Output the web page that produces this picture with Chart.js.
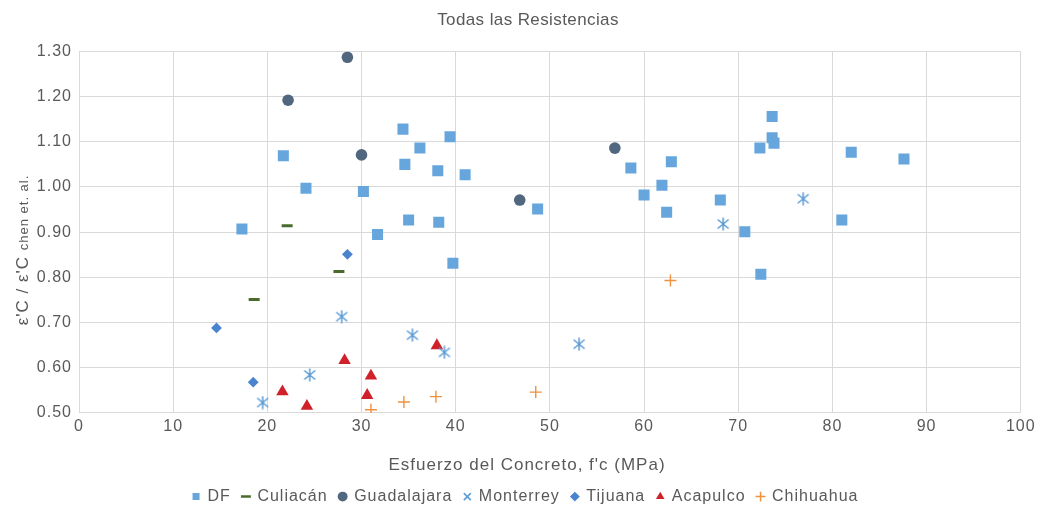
<!DOCTYPE html>
<html>
<head>
<meta charset="utf-8">
<script src="https://cdn.jsdelivr.net/npm/chart.js@4.4.1/dist/chart.umd.min.js"></script>
<style>
  html, body { margin: 0; padding: 0; background: #ffffff; }
  #wrap { width: 1040px; height: 506px; }
</style>
</head>
<body>
<div id="wrap"><canvas id="c" width="1040" height="506"></canvas></div>
<script>
const chartTitle = 'Todas las Resistencias';
const xAxisTitle = "Esfuerzo del Concreto, f'c (MPa)";
const yAxisMain = "ε'C / ε'C ";
const yAxisSub = 'chen et. al.';
const xTicks = [0, 10, 20, 30, 40, 50, 60, 70, 80, 90, 100];
const yTicks = [0.50, 0.60, 0.70, 0.80, 0.90, 1.00, 1.10, 1.20, 1.30];
const seriesNames = ['DF', 'Culiacán', 'Guadalajara', 'Monterrey', 'Tijuana', 'Acapulco', 'Chihuahua'];

const dfX = [17.3, 21.7, 24.1, 30.2, 31.7, 34.4, 34.6, 35.0, 36.2, 38.1, 38.2, 39.4, 39.7, 41.0, 48.7, 58.6, 60.0, 61.9, 62.4, 62.9, 68.1, 70.7, 72.3, 72.4, 73.6, 73.6, 73.8, 81.0, 82.0, 87.6];
const dfY = [0.907, 1.069, 0.997, 0.990, 0.895, 1.128, 1.050, 0.927, 1.086, 1.036, 0.922, 1.111, 0.831, 1.027, 0.951, 1.042, 0.982, 1.004, 0.944, 1.056, 0.971, 0.901, 1.086, 0.807, 1.156, 1.109, 1.097, 0.927, 1.077, 1.062];
const culX = [18.6, 22.1, 27.6];
const culY = [0.751, 0.914, 0.813];
const guaX = [22.2, 28.5, 30.0, 46.8, 56.9];
const guaY = [1.192, 1.287, 1.071, 0.971, 1.086];
const monX = [19.5, 24.5, 27.9, 35.4, 38.8, 53.1, 68.4, 76.9];
const monY = [0.523, 0.584, 0.713, 0.672, 0.634, 0.652, 0.918, 0.974];
const tijX = [14.6, 18.5, 28.5];
const tijY = [0.688, 0.568, 0.851];
const acaX = [21.6, 24.2, 28.2, 30.6, 31.0, 38.0];
const acaY = [0.547, 0.515, 0.616, 0.539, 0.582, 0.649];
const chiX = [31.0, 34.5, 37.9, 48.5, 62.8];
const chiY = [0.507, 0.524, 0.536, 0.546, 0.793];

function pts(xs, ys) { return xs.map((x, i) => ({ x: x, y: ys[i] })); }

// Excel-style "star" marker: X with a vertical bar
function starMarker(color) {
  const c = document.createElement('canvas');
  c.width = 14; c.height = 14;
  const g = c.getContext('2d');
  g.strokeStyle = color; g.lineWidth = 1.5;
  g.beginPath();
  g.moveTo(1.5, 2.5); g.lineTo(12.5, 11.5);
  g.moveTo(12.5, 2.5); g.lineTo(1.5, 11.5);
  g.moveTo(7, 0.5); g.lineTo(7, 13.5);
  g.stroke();
  return c;
}

const TXT = '#595959';
const FONT = "'Liberation Sans', Arial, sans-serif";

const colors = {
  df: '#66A6DC', cul: '#4B6A2D', gua: '#51667F', mon: '#5B9BD5',
  tij: '#4A84CE', aca: '#D0202A', chi: '#F0913F'
};

const datasets = [
  { label: seriesNames[0], data: pts(dfX, dfY), pointStyle: 'rect', pointRadius: 7.8, backgroundColor: colors.df, borderColor: colors.df, borderWidth: 0 },
  { label: seriesNames[1], data: pts(culX, culY), pointStyle: 'line', pointRadius: 5.5, backgroundColor: colors.cul, borderColor: colors.cul, borderWidth: 3 },
  { label: seriesNames[2], data: pts(guaX, guaY), pointStyle: 'circle', pointRadius: 5.8, backgroundColor: colors.gua, borderColor: colors.gua, borderWidth: 0 },
  { label: seriesNames[3], data: pts(monX, monY), pointStyle: starMarker(colors.mon), pointRadius: 7, backgroundColor: colors.mon, borderColor: colors.mon, borderWidth: 1 },
  { label: seriesNames[4], data: pts(tijX, tijY), pointStyle: 'rectRot', pointRadius: 5.4, backgroundColor: colors.tij, borderColor: colors.tij, borderWidth: 0 },
  { label: seriesNames[5], data: pts(acaX, acaY), pointStyle: 'triangle', pointRadius: 7.2, backgroundColor: colors.aca, borderColor: colors.aca, borderWidth: 0 },
  { label: seriesNames[6], data: pts(chiX, chiY), pointStyle: 'cross', pointRadius: 6, backgroundColor: colors.chi, borderColor: colors.chi, borderWidth: 1.4 }
];
datasets.forEach(d => { d.pointHoverRadius = d.pointRadius; d.showLine = false; });

const legendStyles = ['rect', 'line', 'circle', 'crossRot', 'rectRot', 'triangle', 'cross'];

// Wider glyph spacing, as in the reference rendering; title and legend shifted like the reference
const SPACING = '1px';
function wrapDraw(chart, box, dx, spacing) {
  if (!box) return;
  const orig = box.draw.bind(box);
  box.draw = function () {
    const ctx = chart.ctx;
    ctx.save();
    ctx.translate(dx, 0);
    if (spacing) ctx.letterSpacing = spacing;
    orig();
    ctx.restore();
  };
}
const spacingPlugin = {
  id: 'spacing',
  beforeUpdate(chart) { chart.ctx.letterSpacing = SPACING; },
  beforeLayout(chart) { chart.ctx.letterSpacing = SPACING; },
  beforeDraw(chart) { chart.ctx.letterSpacing = SPACING; },
  afterInit(chart) {
    wrapDraw(chart, chart.titleBlock, 10.5, '0.4px');
    wrapDraw(chart, chart.legend, 8, null);
  }
};

const axisTitlesPlugin = {
  id: 'axisTitles',
  afterDraw(chart) {
    const ctx = chart.ctx;
    ctx.save();
    ctx.letterSpacing = '1px';
    ctx.fillStyle = TXT;
    // x axis title
    ctx.font = '17px ' + FONT;
    ctx.textAlign = 'center';
    ctx.textBaseline = 'middle';
    ctx.fillText(xAxisTitle, 527, 465);
    // y axis title with smaller subscript part
    ctx.textBaseline = 'alphabetic';
    ctx.textAlign = 'left';
    ctx.font = '17px ' + FONT;
    const w1 = ctx.measureText(yAxisMain).width;
    ctx.font = '13px ' + FONT;
    const w2 = ctx.measureText(yAxisSub).width;
    const total = w1 + w2;
    ctx.translate(28, 250);
    ctx.rotate(-Math.PI / 2);
    ctx.font = '17px ' + FONT;
    ctx.fillText(yAxisMain, -total / 2, 0);
    ctx.font = '13px ' + FONT;
    ctx.fillText(yAxisSub, -total / 2 + w1, 0);
    ctx.restore();
  }
};

new Chart(document.getElementById('c'), {
  type: 'scatter',
  data: { datasets: datasets },
  options: {
    responsive: false,
    animation: false,
    events: [],
    layout: { padding: { left: 10, right: 15, top: 0, bottom: -8.6 } },
    plugins: {
      title: {
        display: true, text: chartTitle, color: TXT,
        font: { family: FONT, size: 17, weight: 'normal' },
        padding: { top: 10, bottom: 21 }
      },
      legend: {
        display: true, position: 'bottom',
        labels: {
          color: TXT, font: { family: FONT, size: 16 },
          usePointStyle: true, boxWidth: 7, boxHeight: 7, padding: 11.5,
          generateLabels(chart) {
            const items = Chart.defaults.plugins.legend.labels.generateLabels(chart);
            items.forEach((it, i) => { it.pointStyle = legendStyles[i]; it.lineWidth = (i === 1 ? 2.5 : (i === 3 || i === 6 ? 1.5 : 0)); });
            return items;
          }
        }
      },
      tooltip: { enabled: false }
    },
    scales: {
      x: {
        type: 'linear', min: 0, max: 100,
        afterBuildTicks(s) { s.ticks = xTicks.map(v => ({ value: v })); },
        afterFit(s) { s.height = 64.2; },
        grid: { color: '#D9D9D9', lineWidth: 1, drawTicks: false },
        border: { color: '#D9D9D9', width: 1 },
        ticks: { color: TXT, font: { family: FONT, size: 16 }, padding: 4.4 },
        title: { display: false }
      },
      y: {
        type: 'linear', min: 0.5, max: 1.3,
        afterBuildTicks(s) { s.ticks = yTicks.map(v => ({ value: v })); },
        afterFit(s) { s.width = 69; },
        grid: { color: '#D9D9D9', lineWidth: 1, drawTicks: false },
        border: { color: '#D9D9D9', width: 1 },
        ticks: { color: TXT, font: { family: FONT, size: 16 }, padding: 7, callback: v => Number(v).toFixed(2) }
      }
    }
  },
  plugins: [spacingPlugin, axisTitlesPlugin]
});
</script>
</body>
</html>
